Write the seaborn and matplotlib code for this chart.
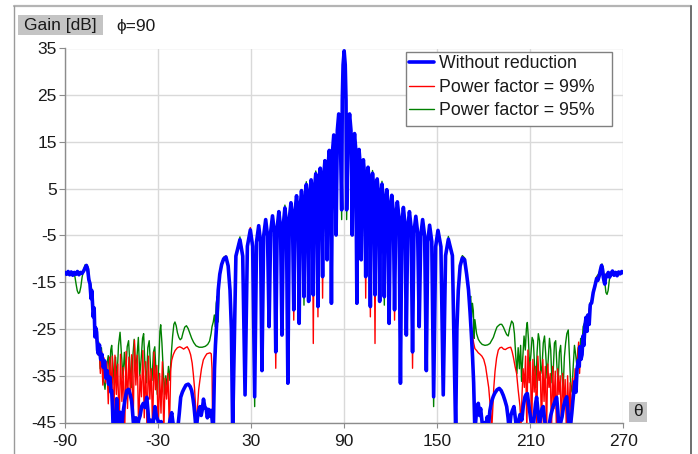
import numpy as np
import pandas as pd
import matplotlib
matplotlib.use("Agg")
import matplotlib.pyplot as plt
import seaborn as sns
from matplotlib.lines import Line2D
from matplotlib.patches import Rectangle

sns.set_style("white")
plt.rcParams['font.family'] = ['Liberation Sans', 'DejaVu Sans']
plt.rcParams['axes.unicode_minus'] = False

# ------------------------------------------------------------------ data
series_names = ["Without reduction", "Power factor = 99%", "Power factor = 95%"]
series_colors = ["#0000ff", "#ff0000", "#008000"]
x_ticks = [-90, -30, 30, 90, 150, 210, 270]
y_ticks = [35, 25, 15, 5, -5, -15, -25, -35, -45]

# central side-lobe region (vertices)
center_theta_left = [18.1, 20.2, 22.8, 24.6, 26.1, 27.6, 29.5, 31.0, 32.3, 33.5, 34.9, 36.1,
                     37.0, 38.1, 39.4, 40.6, 41.6, 42.6, 43.8, 45.0, 45.9, 46.8, 47.9, 49.0,
                     49.9, 50.8, 51.8, 52.8, 53.7, 54.6, 55.7, 56.7, 57.5, 58.3, 59.3, 60.2,
                     61.0, 61.7, 62.5, 63.4, 64.1, 64.8, 65.6, 66.4, 67.1, 67.8, 68.7, 69.5,
                     70.1, 70.8, 71.7, 72.5, 73.1, 73.8, 74.6, 75.4, 76.1, 76.8, 77.6, 78.4,
                     79.0, 79.6, 80.4, 81.2, 81.8, 82.5, 83.3, 84.1, 84.8, 85.6, 86.5, 87.5, 88.4]
center_gain_left = [-47, -9.4, -5.9, -9.4, -39.1, -7.3, -3.8, -7.3, -39.5, -6.4, -2.9, -6.4,
                    -33.9, -5.1, -1.6, -5.1, -24.5, -4.3, -0.8, -4.3, -29.9, -3.4, 0.1, -3.4,
                    -26.3, -2.6, 0.9, -2.6, -36.6, -1.5, 2.0, -1.5, -20.9, 0.0, 3.5, 0.0,
                    -23.8, 1.1, 4.6, 1.1, -18.1, 2.4, 5.9, 2.4, -19.1, 3.4, 6.9, 3.4,
                    -17.7, 4.7, 8.2, 4.7, -20.2, 5.9, 9.4, 5.9, -13.8, 7.5, 11.0, 7.5,
                    -10.2, 9.7, 13.2, 9.7, -19.5, 13.0, 16.5, 13.0, -4.9, 17.5, 21.0, 17.5, 0.5]
main_theta = [88.8, 89.3, 90.0, 90.7, 91.2]
main_gain = [24.0, 31.5, 34.5, 31.5, 24.0]
center_theta_right = [91.6, 92.5, 93.5, 94.4, 95.2, 95.9, 96.7, 97.5, 98.2, 98.8, 99.6, 100.4,
                      101.0, 101.6, 102.4, 103.2, 103.9, 104.6, 105.4, 106.2, 106.9, 107.5, 108.3, 109.2,
                      109.9, 110.5, 111.3, 112.2, 112.9, 113.6, 114.4, 115.2, 115.9, 116.6, 117.5, 118.3,
                      119.0, 119.8, 120.7, 121.7, 122.5, 123.3, 124.3, 125.4, 126.3, 127.2, 128.2, 129.2,
                      130.1, 131.0, 132.1, 133.2, 134.1, 135.0, 136.2, 137.4, 138.4, 139.4, 140.6, 141.9,
                      143.0, 143.9, 145.1, 146.5, 147.7, 149.0, 150.5, 152.4, 153.9, 155.4, 157.2, 159.8, 161.9]
center_gain_right = [0.5, 17.5, 21.0, 17.5, -4.9, 13.3, 16.8, 13.3, -19.5, 9.9, 13.4, 9.9,
                     -10.2, 7.7, 11.2, 7.7, -13.8, 6.1, 9.6, 6.1, -20.2, 4.8, 8.3, 4.8,
                     -17.7, 3.6, 7.1, 3.6, -19.1, 2.5, 6.0, 2.5, -18.1, 1.3, 4.8, 1.3,
                     -23.8, 0.1, 3.6, 0.1, -20.9, -1.3, 2.2, -1.3, -36.6, -2.5, 1.0, -2.5,
                     -26.3, -3.4, 0.1, -3.4, -29.9, -4.4, -0.9, -4.4, -24.5, -5.1, -1.6, -5.1,
                     -33.9, -6.3, -2.8, -6.3, -39.5, -7.4, -3.9, -7.4, -39.1, -9.3, -5.8, -9.3, -47]

# where the reduced-power curves differ from the blue one in the central region
red_diff_theta = [29.5, 45.9, 57.5, 70.1, 73.1, 76.1, 103.9, 106.9, 109.9, 122.5, 134.1]
red_diff_gain = [-3.3, -33.4, -23.1, -28.1, -22.4, -18.4, -18.4, -22.4, -28.1, -23.1, -33.4]
green_diff_theta = [22.8, 32.3, 51.8, 64.1, 65.6, 71.7, 88.4, 91.6, 108.3, 114.4, 115.9, 147.7, 157.2]
green_diff_gain = [-5.3, -41.6, 1.5, -19.9, 6.5, 8.8, -1.6, -1.6, 8.9, 6.6, -19.9, -41.6, -5.2]

# left outer region
blue_theta_lo = [-90, -89, -88, -87, -86, -85, -84, -83, -82, -81, -80, -79, -78, -77, -76.2, -75.4,
                 -74.6, -73.9, -73.2, -72.7, -71.8, -71.2, -70.7, -70.1, -69.6, -69.0, -68.5, -67.8,
                 -67.0, -66.2, -65.3, -64.5, -63.6, -62.8, -61.9, -61.0, -60.4, -59.9, -59.3, -58.9,
                 -58.0, -57.4, -56.7, -56.0, -55.4, -54.5, -53.7, -52.4, -51.4, -50.2, -49.0, -47.8,
                 -47.0, -46.2, -45.5, -44.3, -43.5, -42.5, -41.6, -40.5, -39.5, -38.4, -37.3, -36.5,
                 -35.6, -34.6, -33.7, -32.0, -31.0, -30.0, -29.2, -28.0, -27.2, -25.4, -24.5, -23.5,
                 -22.3, -21.2, -20.2, -19.2, -17.5, -16.3, -15.4, -14.3, -13.3, -12.0, -10.5, -9.3,
                 -8.3, -7.5, -6.8, -6.0, -5.5, -4.6, -3.8, -3.0, -2.2, -1.5, -0.7, 0.2, 1.0, 1.8,
                 2.6, 3.4, 4.2, 4.9, 5.6, 6.4, 7.0, 7.8, 8.8, 9.8, 11.0, 12.3, 13.8, 15.2, 16.4, 17.3]
blue_gain_lo = [-12.9, -13.3, -12.7, -13.4, -12.8, -13.5, -12.9, -13.3, -12.7, -13.4, -12.9, -13.1,
                -12.6, -11.9, -11.4, -12.2, -14.5, -15.3, -18.5, -16.8, -22.4, -20.5, -26.7, -24.8,
                -25.7, -29.5, -30.3, -28.4, -31.5, -30.4, -33.2, -31.8, -35.5, -33.9, -36.8, -35.3,
                -38.5, -38.2, -42.5, -47, -43.2, -47, -39.9, -44.5, -47, -42.8, -47, -42.5, -40.2,
                -38.2, -37.9, -39.2, -40.5, -43.8, -47, -44.0, -47, -44.5, -43.6, -41.5, -40.9,
                -41.8, -39.6, -42.5, -47, -44.5, -47, -41.6, -43.8, -44.6, -47, -44.8, -47, -47,
                -45.5, -47, -44.5, -42.9, -45.5, -47, -47, -43.0, -39.6, -38.5, -37.8, -37.0, -36.8,
                -37.3, -38.2, -39.8, -41.6, -44.5, -47, -44.0, -42.5, -41.6, -43.5, -42.3, -40.0,
                -41.8, -42.0, -44.0, -42.2, -43.6, -42.4, -44.5, -47, -33.5, -28.5, -23.8, -16.7,
                -13.3, -11.2, -10.0, -9.6, -11.5, -16.7, -25.0]
red_theta_lo = [-90, -88, -86, -84, -82, -80, -78, -76.2, -75.2, -74.2, -73.0, -71.8, -70.8, -69.8,
                -68.8, -68.0, -67.2, -66.4, -65.6, -64.8, -63.9, -63.0, -62.1, -61.2, -60.3, -59.5,
                -58.6, -57.8, -56.9, -56.0, -55.1, -54.2, -53.3, -52.4, -51.5, -50.6, -49.7, -48.8,
                -47.9, -47.0, -46.1, -45.2, -44.3, -43.4, -42.5, -41.6, -40.7, -39.8, -38.9, -38.0,
                -37.1, -36.2, -35.3, -34.4, -33.5, -32.6, -31.7, -30.8, -29.9, -29.0, -28.1, -27.2,
                -26.3, -25.4, -24.5, -23.6, -22.7, -21.8, -21.2, -20.2, -19.0, -17.5, -16.0, -14.8,
                -13.5, -12.3, -11.2, -10.0, -9.0, -8.0, -7.3, -6.5, -5.8, -5.2, -4.5, -3.8, -3.0,
                -2.0, -0.8, 0.5, 1.5, 2.5, 3.5, 4.3, 4.8, 5.2, 6.0, 6.6, 7.3, 7.8, 8.8, 9.8, 11.0,
                12.3, 13.8, 15.2, 16.4, 17.3]
red_gain_lo = [-13.0, -12.8, -13.2, -12.9, -13.1, -12.9, -12.6, -11.3, -12.5, -15.0, -17.5, -22.0,
               -25.5, -27.5, -30.5, -28.2, -34.5, -29.8, -37.0, -31.2, -36.5, -32.0, -41.0, -31.0,
               -38.5, -30.8, -47, -30.6, -39.0, -32.5, -47, -30.4, -40.5, -33.2, -47, -29.8, -42.0,
               -31.0, -38.5, -30.5, -47, -27.4, -37.0, -30.6, -47, -34.8, -39.5, -29.6, -44.0,
               -32.0, -47, -30.8, -40.0, -33.5, -47, -29.9, -38.0, -32.8, -47, -34.5, -43.0, -32.0,
               -47, -35.5, -40.0, -34.5, -47, -33.5, -31.7, -30.5, -29.6, -29.0, -28.8, -29.0,
               -29.3, -29.0, -28.8, -29.5, -30.5, -32.3, -34.5, -37.5, -41.5, -47, -41.5, -38.0,
               -35.9, -33.5, -31.6, -30.8, -30.3, -30.2, -30.1, -30.3, -33.5, -47, -34.0, -29.0,
               -27.5, -23.8, -16.7, -13.0, -11.0, -9.8, -9.4, -11.5, -16.7, -25.0]
green_theta_lo = [-90, -88, -86, -84.5, -83.6, -82.8, -82.1, -81.3, -80.6, -79.8, -79.0, -78.2,
                  -77.1, -76.0, -75.0, -74.2, -72.8, -71.8, -70.7, -69.8, -69.0, -68.2, -67.3,
                  -66.5, -65.5, -64.2, -63.2, -62.1, -61.2, -60.5, -59.9, -59.0, -58.2, -57.4,
                  -56.5, -55.5, -54.5, -53.5, -52.6, -51.7, -50.8, -49.9, -49.0, -48.1, -47.2,
                  -46.3, -45.4, -44.5, -43.6, -42.7, -41.8, -40.9, -40.0, -39.3, -38.4, -37.5,
                  -36.6, -35.7, -34.8, -33.9, -33.0, -32.1, -31.2, -30.5, -29.6, -28.8, -28.3,
                  -27.5, -26.7, -25.8, -25.0, -24.2, -23.3, -22.4, -21.5, -20.6, -19.8, -19.1,
                  -18.3, -17.5, -16.6, -15.7, -14.8, -13.9, -12.8, -11.7, -10.6, -9.5, -8.3, -7.0,
                  -5.5, -3.5, -1.5, 0.5, 2.0, 3.2, 4.2, 4.8, 5.6, 6.3, 6.9, 7.5, 8.2, 8.8, 9.3,
                  10.2, 11.3, 12.5, 13.8, 15.2, 16.4, 17.3]
green_gain_lo = [-12.9, -13.2, -12.8, -13.2, -13.8, -15.5, -16.8, -17.4, -17.2, -16.0, -14.0, -12.6,
                 -11.3, -11.4, -11.8, -14.5, -16.4, -20.0, -23.6, -26.0, -30.0, -27.8, -33.5, -29.0,
                 -35.0, -37.9, -33.0, -30.7, -35.5, -29.5, -28.5, -33.0, -37.0, -31.0, -36.0, -28.5,
                 -25.7, -31.0, -35.5, -30.0, -34.5, -28.8, -27.5, -33.0, -37.5, -31.0, -27.2, -33.5,
                 -31.0, -26.8, -35.0, -31.5, -27.0, -26.0, -33.0, -36.5, -29.0, -27.5, -33.5, -36.0,
                 -30.0, -28.8, -35.0, -39.0, -33.0, -25.5, -24.1, -28.0, -33.5, -39.0, -35.0, -37.5,
                 -33.0, -36.0, -30.5, -26.5, -24.0, -23.5, -24.3, -25.8, -26.8, -27.3, -27.0, -25.8,
                 -24.6, -24.3, -24.9, -25.9, -27.0, -27.9, -28.6, -28.9, -28.9, -28.7, -28.3, -27.6,
                 -26.0, -24.5, -23.5, -22.0, -24.5, -19.5, -18.0, -23.5, -16.0, -12.8, -10.6, -9.6,
                 -9.4, -11.3, -16.5, -24.5]

# right outer region
blue_theta_ro = [162.7, 163.6, 164.8, 166.2, 167.7, 169.0, 170.2, 171.2, 172.0, 172.8, 173.5, 174.3,
                 175.0, 175.8, 176.5, 177.3, 178.0, 178.8, 179.6, 180.5, 181.3, 182.2, 183.1, 184.0,
                 185.1, 186.2, 187.2, 188.6, 190.0, 191.3, 192.6, 193.7, 194.8, 195.7, 196.5, 197.5,
                 198.4, 199.5, 200.5, 201.4, 202.4, 203.4, 204.6, 205.5, 206.6, 207.3, 208.1, 209.0,
                 209.8, 210.6, 211.4, 212.5, 213.4, 214.1, 215.0, 215.9, 216.8, 217.6, 218.4, 219.3,
                 220.2, 221.2, 222.2, 223.2, 224.0, 224.8, 225.9, 227.0, 227.8, 228.6, 229.6, 230.5,
                 231.5, 232.5, 233.5, 234.3, 235.1, 236.0, 236.8, 237.6, 238.4, 238.8, 239.5, 240.2,
                 241.0, 241.6, 242.0, 242.7, 243.4, 244.0, 244.6, 245.3, 246.0, 246.6, 247.2, 248.0,
                 248.7, 249.6, 250.2, 250.6, 251.7, 252.8, 253.6, 254.5, 255.3, 256.0, 256.6, 257.1,
                 257.7, 258.1, 258.7, 259.5, 260.3, 261.2, 262.0, 263.0, 264.0, 265.0, 266.0, 267.0,
                 268.0, 269.0, 270.0]
blue_gain_ro = [-25.0, -16.7, -11.5, -9.8, -10.2, -13.3, -16.7, -21.5, -26.0, -31.0, -36.5, -47,
                -44.0, -41.5, -40.9, -43.5, -42.0, -44.5, -47, -45.0, -47, -43.8, -45.5, -42.4,
                -40.5, -39.4, -38.7, -38.0, -37.7, -38.2, -39.2, -40.3, -41.6, -44.0, -47, -43.5,
                -42.5, -41.6, -44.5, -47, -44.8, -43.3, -44.5, -41.5, -39.5, -39.0, -38.8, -41.0,
                -42.8, -45.0, -47, -44.0, -41.0, -39.6, -42.5, -45.5, -43.5, -42.0, -41.6, -44.5,
                -47, -47, -45.5, -43.5, -42.5, -41.5, -40.5, -39.6, -42.5, -47, -45.0, -43.8,
                -41.5, -40.3, -39.5, -42.5, -47, -45.5, -43.0, -40.0, -37.5, -36.2, -38.5, -33.5,
                -31.7, -33.0, -28.8, -31.5, -30.5, -26.5, -28.5, -24.2, -22.5, -25.5, -22.0, -24.0,
                -19.8, -19.4, -18.0, -17.2, -15.8, -14.2, -14.6, -13.6, -12.3, -11.4, -12.2, -13.9,
                -15.0, -15.4, -13.5, -13.8, -12.9, -13.9, -13.2, -12.6, -13.5, -12.9, -13.6, -12.8,
                -13.2, -12.7, -13.0]
red_theta_ro = [162.7, 163.6, 164.8, 166.2, 167.7, 169.0, 170.2, 171.2, 172.0, 172.8, 173.5, 174.3,
                175.4, 176.5, 177.6, 178.8, 180.0, 181.2, 182.2, 183.2, 184.0, 184.6, 185.1, 185.8,
                186.5, 187.3, 188.3, 189.4, 190.5, 191.6, 192.8, 194.0, 194.8, 196.0, 197.4, 198.3,
                199.1, 200.2, 201.2, 202.2, 203.4, 204.0, 204.7, 205.4, 206.2, 207.0, 207.8, 208.5,
                209.3, 210.1, 210.9, 211.7, 212.5, 213.3, 214.1, 214.9, 215.7, 216.5, 217.3, 218.1,
                218.9, 219.7, 220.5, 221.3, 222.1, 222.9, 223.7, 224.5, 225.3, 226.1, 226.9, 227.7,
                228.5, 229.3, 230.1, 230.9, 231.7, 232.5, 233.3, 234.1, 234.9, 235.7, 236.5, 237.3,
                238.1, 238.9, 239.7, 240.5, 241.2, 241.8, 242.4, 243.2, 244.0, 244.8, 245.5, 246.5,
                247.5, 248.5, 249.6, 250.6, 251.7, 252.8, 254.5, 256.0, 257.1, 258.0, 259.0, 260.5,
                262.0, 264.0, 266.0, 268.0, 270.0]
red_gain_ro = [-25.0, -16.7, -11.3, -9.6, -10.0, -13.3, -16.7, -21.0, -24.5, -26.5, -28.0, -29.2,
               -29.6, -30.1, -30.4, -30.8, -31.5, -33.0, -35.3, -37.5, -40.5, -43.0, -47, -42.0,
               -37.5, -34.0, -31.2, -29.5, -29.0, -28.9, -29.3, -29.4, -29.2, -29.0, -28.9, -29.8,
               -31.0, -33.0, -34.5, -38.0, -41.6, -47, -39.0, -33.5, -37.5, -30.8, -47, -29.5,
               -36.5, -32.0, -47, -31.5, -38.5, -33.0, -47, -30.8, -36.0, -34.0, -47, -31.5,
               -40.5, -33.0, -47, -32.5, -37.5, -34.5, -47, -33.0, -42.0, -34.0, -47, -33.5,
               -39.0, -35.0, -47, -34.5, -41.0, -35.8, -47, -35.0, -44.0, -36.5, -47, -35.5,
               -40.0, -33.5, -38.5, -31.0, -27.8, -34.5, -29.5, -31.0, -26.5, -28.0, -24.0, -23.0,
               -22.5, -20.0, -19.0, -17.0, -15.6, -14.0, -13.4, -11.3, -13.5, -14.5, -13.2, -12.8,
               -13.3, -12.9, -13.4, -12.9, -13.1]
green_theta_ro = [162.7, 163.6, 164.8, 166.2, 167.7, 169.0, 170.2, 171.0, 171.6, 172.2, 172.7, 173.3,
                  173.8, 174.3, 175.4, 176.5, 177.6, 179.0, 180.8, 182.5, 184.0, 185.2, 186.2, 187.5,
                  188.5, 189.4, 190.5, 191.6, 192.7, 193.7, 194.8, 195.8, 196.8, 198.0, 199.0, 199.8,
                  200.6, 201.4, 202.2, 203.0, 203.8, 204.4, 205.2, 206.0, 206.8, 207.5, 208.1, 208.8,
                  209.6, 210.4, 211.2, 212.0, 212.8, 213.6, 214.4, 215.2, 216.0, 216.8, 217.6, 218.4,
                  219.2, 220.0, 220.8, 221.6, 222.4, 223.2, 224.0, 224.8, 225.6, 226.4, 227.2, 228.0,
                  228.8, 229.6, 230.4, 231.2, 232.0, 232.8, 233.6, 234.5, 235.3, 236.1, 236.9, 237.7,
                  238.5, 239.3, 240.1, 240.9, 241.7, 242.5, 243.3, 244.1, 245.3, 246.5, 247.5, 248.5,
                  249.6, 250.6, 251.7, 252.8, 254.5, 255.5, 256.3, 257.0, 257.6, 258.2, 258.8, 259.5,
                  260.2, 260.9, 261.6, 262.5, 264.0, 266.0, 268.0, 270.0]
green_gain_ro = [-24.5, -16.5, -11.2, -9.3, -9.8, -13.0, -16.3, -18.8, -18.0, -22.5, -19.5, -21.1,
                 -27.0, -23.0, -26.0, -27.2, -27.8, -28.3, -28.5, -28.4, -28.1, -27.4, -26.8, -25.5,
                 -24.6, -24.3, -24.0, -24.0, -24.6, -25.4, -26.2, -26.5, -24.8, -23.3, -23.8, -26.0,
                 -30.5, -34.5, -29.0, -33.5, -28.5, -36.2, -31.0, -26.5, -29.5, -25.0, -23.6, -27.0,
                 -33.5, -30.5, -26.8, -27.5, -33.0, -37.5, -30.0, -26.0, -27.5, -34.5, -33.0, -28.0,
                 -26.5, -30.5, -35.5, -31.5, -27.0, -29.5, -36.5, -34.0, -28.0, -27.5, -33.0, -36.5,
                 -30.0, -28.5, -34.5, -38.0, -31.0, -28.0, -26.0, -25.2, -31.0, -37.0, -38.5, -33.0,
                 -28.5, -30.5, -33.0, -29.0, -31.0, -27.0, -29.0, -24.5, -23.5, -22.0, -22.2, -19.5,
                 -18.8, -16.8, -15.3, -13.8, -13.0, -11.5, -11.1, -12.0, -13.6, -15.5, -17.2, -17.6,
                 -16.8, -14.8, -13.2, -12.8, -13.3, -12.9, -13.3, -13.0]

# ------------------------------------------------------------------ build tables
center_theta = np.array(center_theta_left + main_theta + center_theta_right)
center_blue = np.array(center_gain_left + main_gain + center_gain_right, dtype=float)


def with_diffs(base, thetas, gains):
    out = base.copy()
    for t, g in zip(thetas, gains):
        out[np.isclose(center_theta, t)] = g
    return out


center_red = with_diffs(center_blue, red_diff_theta, red_diff_gain)
center_green = with_diffs(center_blue, green_diff_theta, green_diff_gain)

frames = {
    series_names[0]: pd.DataFrame({
        "theta": np.concatenate([blue_theta_lo, center_theta, blue_theta_ro]),
        "gain": np.concatenate([blue_gain_lo, center_blue, blue_gain_ro])}),
    series_names[1]: pd.DataFrame({
        "theta": np.concatenate([red_theta_lo, center_theta, red_theta_ro]),
        "gain": np.concatenate([red_gain_lo, center_red, red_gain_ro])}),
    series_names[2]: pd.DataFrame({
        "theta": np.concatenate([green_theta_lo, center_theta, green_theta_ro]),
        "gain": np.concatenate([green_gain_lo, center_green, green_gain_ro])}),
}

# ------------------------------------------------------------------ figure
W, H = 698, 454
fig = plt.figure(figsize=(W / 100, H / 100), dpi=100)
fig.patch.set_facecolor("white")

ax_l, ax_r, ax_t, ax_b = 65, 623.3, 48.5, 422.5
ax = fig.add_axes([ax_l / W, 1 - ax_b / H, (ax_r - ax_l) / W, (ax_b - ax_t) / H])

widths = [2.6, 1.0, 1.0]
for idx in [2, 1, 0]:
    name = series_names[idx]
    sns.lineplot(data=frames[name], x="theta", y="gain", sort=False, estimator=None,
                 color=series_colors[idx], linewidth=widths[idx], ax=ax,
                 solid_joinstyle="round", zorder=3 + (2 - idx))

ax.set_xlim(-90, 270)
ax.set_ylim(-45, 35)
ax.set_xticks(x_ticks)
ax.set_yticks(y_ticks)
ax.set_xticklabels([str(v) for v in x_ticks])
ax.set_yticklabels([str(v) for v in y_ticks])
ax.set_xlabel("")
ax.set_ylabel("")
ax.grid(True, color="#d9d9d9", linewidth=1.0, zorder=0)
ax.set_axisbelow(True)
for s in ["top", "right"]:
    ax.spines[s].set_visible(False)
for s in ["left", "bottom"]:
    ax.spines[s].set_color("#8c8c8c")
    ax.spines[s].set_linewidth(1.0)
ax.tick_params(axis="y", direction="out", length=4, width=0.8, color="#8c8c8c",
               labelsize=12.5, labelcolor="#1a1a1a", pad=2, left=True)
ax.tick_params(axis="x", direction="out", length=3.5, width=0.8, color="#8c8c8c",
               labelsize=12.5, labelcolor="#1a1a1a", pad=4.5, bottom=True)

# legend: frame drawn separately so its padding matches the reference
box_l, box_t, box_r, box_b = 405.7, 51.7, 611.7, 126.0
fig.add_artist(Rectangle((box_l / W, 1 - box_b / H), (box_r - box_l) / W, (box_b - box_t) / H,
                         transform=fig.transFigure, facecolor="white", edgecolor="#808080",
                         linewidth=1.0, zorder=9))
handles = [Line2D([0], [0], color=series_colors[i], linewidth=widths[i]) for i in range(3)]
leg = fig.legend(handles, series_names, loc="upper left",
                 bbox_to_anchor=(409 / W, 1 - 55.5 / H), bbox_transform=fig.transFigure,
                 borderaxespad=0, borderpad=0, fontsize=12.8, frameon=False,
                 handlelength=1.4, handletextpad=0.3, labelspacing=0.36)
leg.set_zorder(10)
for t in leg.get_texts():
    t.set_color("#1a1a1a")

# header / labels in grey boxes
fig.patches.append(Rectangle((17.5 / W, 1 - 35 / H), (102.5 - 17.5) / W, 20 / H,
                             transform=fig.transFigure, facecolor="#c4c4c4",
                             edgecolor="none", zorder=1))
fig.text(60 / W, 1 - 25.5 / H, "Gain [dB]", ha="center", va="center",
         fontsize=12.5, color="#1a1a1a")
fig.text(116 / W, 1 - 26 / H, "\u03d5=90", ha="left", va="center",
         fontsize=12.5, color="#1a1a1a")
fig.patches.append(Rectangle((629 / W, 1 - 422 / H), 18 / W, 20 / H,
                             transform=fig.transFigure, facecolor="#c4c4c4",
                             edgecolor="none", zorder=1))
fig.text(638 / W, 1 - 412 / H, "\u03b8", ha="center", va="center",
         fontsize=12.5, color="#1a1a1a")

# outer frame
fig.add_artist(Line2D([13.5 / W, 690.5 / W], [1 - 6 / H, 1 - 6 / H], transform=fig.transFigure,
                      color="#b4b4b4", linewidth=1.6))
fig.add_artist(Line2D([13.5 / W, 13.5 / W], [1 - 6 / H, -0.01], transform=fig.transFigure,
                      color="#9a9a9a", linewidth=1.0))
fig.add_artist(Line2D([690.5 / W, 690.5 / W], [1 - 6 / H, -0.01], transform=fig.transFigure,
                      color="#6e6e6e", linewidth=1.4))

fig.savefig("out.png", dpi=100, facecolor="white")
